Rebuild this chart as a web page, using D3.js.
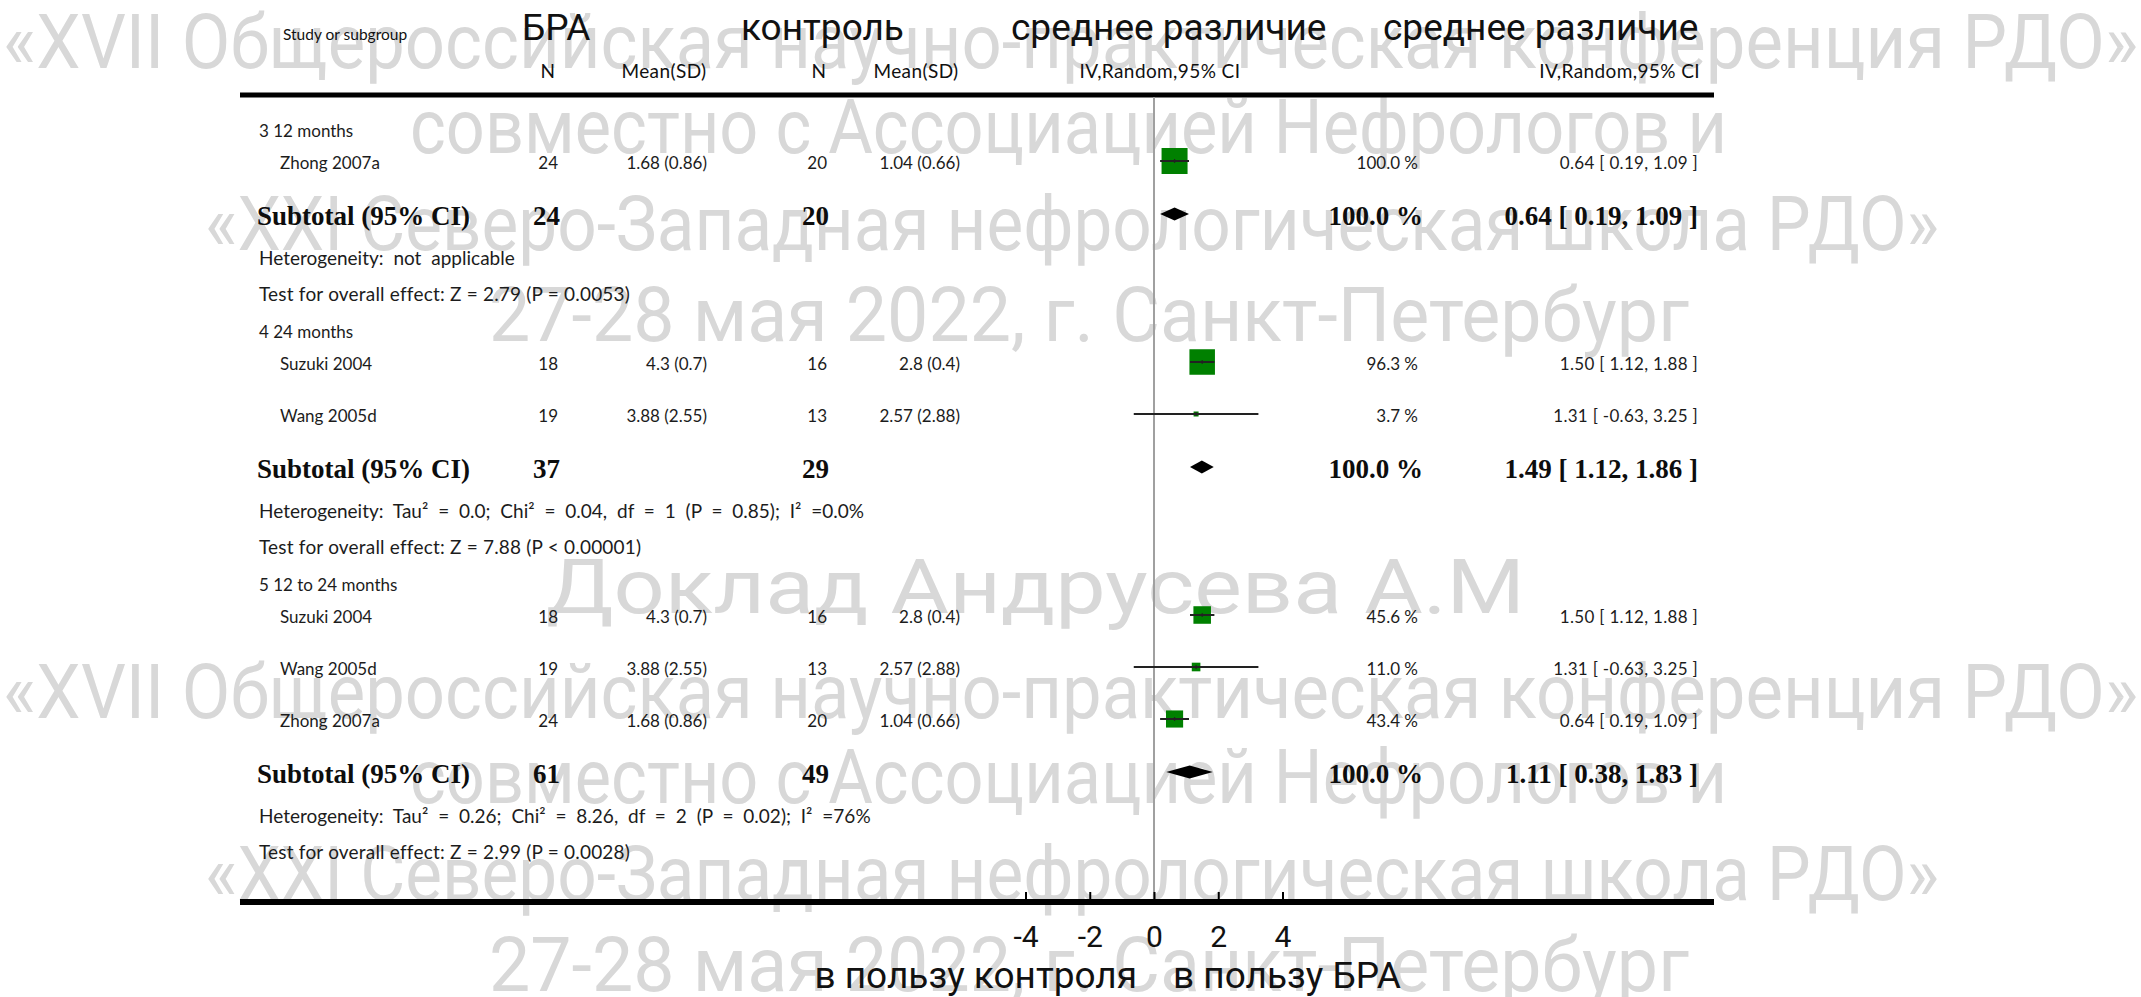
<!DOCTYPE html>
<html>
<head>
<meta charset="utf-8">
<script src="https://cdn.jsdelivr.net/npm/d3@7"></script>
<style>
  html, body { margin: 0; padding: 0; background: #fff; overflow: hidden; }
  svg { display: block; }
</style>
</head>
<body>
<svg id="chart" width="2141" height="997"></svg>
<script>
// Forest plot: mean difference (IV, random effects, 95% CI), subgroups by follow-up time

const groupLabels = ["3 12 months", "4 24 months", "5 12 to 24 months"];

// individual studies
const studyGroup  = [0, 1, 1, 2, 2, 2];
const studyNames  = ["Zhong 2007a", "Suzuki 2004", "Wang 2005d", "Suzuki 2004", "Wang 2005d", "Zhong 2007a"];
const braN        = [24, 18, 19, 18, 19, 24];
const braMeanSD   = ["1.68 (0.86)", "4.3 (0.7)", "3.88 (2.55)", "4.3 (0.7)", "3.88 (2.55)", "1.68 (0.86)"];
const ctrlN       = [20, 16, 13, 16, 13, 20];
const ctrlMeanSD  = ["1.04 (0.66)", "2.8 (0.4)", "2.57 (2.88)", "2.8 (0.4)", "2.57 (2.88)", "1.04 (0.66)"];
const weights     = [100.0, 96.3, 3.7, 45.6, 11.0, 43.4];
const meanDiff    = [0.64, 1.50, 1.31, 1.50, 1.31, 0.64];
const ciLow       = [0.19, 1.12, -0.63, 1.12, -0.63, 0.19];
const ciHigh      = [1.09, 1.88, 3.25, 1.88, 3.25, 1.09];

// subgroup totals
const subN1     = [24, 37, 61];
const subN2     = [20, 29, 49];
const subWeight = [100.0, 100.0, 100.0];
const subMD     = [0.64, 1.49, 1.11];
const subLow    = [0.19, 1.12, 0.38];
const subHigh   = [1.09, 1.86, 1.83];
const heterogeneity = [
  "Heterogeneity: not applicable",
  "Heterogeneity: Tau² = 0.0; Chi² = 0.04, df = 1 (P = 0.85); I² =0.0%",
  "Heterogeneity: Tau² = 0.26; Chi² = 8.26, df = 2 (P = 0.02); I² =76%"
];
const overallTest = [
  "Test for overall effect: Z = 2.79 (P = 0.0053)",
  "Test for overall effect: Z = 7.88 (P < 0.00001)",
  "Test for overall effect: Z = 2.99 (P = 0.0028)"
];

const xTicks = [-4, -2, 0, 2, 4];
const xLabels = ["в пользу контроля", "в пользу БРА"];

const bannerLines = [
  "«XVII Общероссийская научно-практическая конференция РДО»",
  "совместно с Ассоциацией Нефрологов и",
  "«XXI Северо-Западная нефрологическая школа РДО»",
  "27-28 мая 2022, г. Санкт-Петербург"
];
const speakerLine = "Доклад Андрусева А.М";

// ---------------------------------------------------------------------------
const svg = d3.select("#chart");
svg.append("rect").attr("width", 2141).attr("height", 997).attr("fill", "#fff");

// background banner text
const bannerFont = "Roboto, 'Liberation Sans', sans-serif";
const banner = svg.append("g").attr("fill", "#d8d8d8")
  .attr("font-family", bannerFont).attr("font-size", 76);
const bannerSpec = [
  {x: 3,   w: 2135, y: 68},
  {x: 410, w: 1317, y: 153},
  {x: 205, w: 1734, y: 250},
  {x: 489, w: 1200, y: 341}
];
[0, 650].forEach(dy => {
  bannerLines.forEach((t, i) => {
    banner.append("text")
      .attr("x", bannerSpec[i].x).attr("y", bannerSpec[i].y + dy)
      .attr("textLength", bannerSpec[i].w).attr("lengthAdjust", "spacingAndGlyphs")
      .text(t);
  });
});
banner.append("text").attr("x", 546).attr("y", 613)
  .attr("textLength", 979).attr("lengthAdjust", "spacingAndGlyphs")
  .text(speakerLine);

// ---------------------------------------------------------------------------
const x = d3.scaleLinear().domain([-4, 4]).range([1025.5, 1282.5]);

const tableLeft = 240, tableRight = 1714;
const topRuleY = 95, axisY = 902;

const small = "Lato, 'Open Sans', sans-serif";
const serif = "'Liberation Serif', 'DejaVu Serif', serif";
const big = "Roboto, 'Liberation Sans', sans-serif";

const col = {
  label: 259, study: 280,
  n1: 558, mean1: 707, n2: 827, mean2: 960,
  weight: 1418, ci: 1698
};

// header
const head = svg.append("g").attr("fill", "#111");
head.append("text").attr("x", 283).attr("y", 40)
  .attr("font-family", small).attr("font-size", 15.5).text("Study or subgroup");
[["БРА", 522], ["контроль", 741], ["среднее различие", 1011], ["среднее различие", 1383]]
  .forEach(([t, px]) => {
    head.append("text").attr("x", px).attr("y", 40)
      .attr("font-family", big).attr("font-size", 37).text(t);
  });
[["N", 548, "middle"], ["Mean(SD)", 664, "middle"], ["N", 819, "middle"], ["Mean(SD)", 916, "middle"],
 ["IV,Random,95% CI", 1160, "middle"], ["IV,Random,95% CI", 1700, "end"]]
  .forEach(([t, px, anchor]) => {
    head.append("text").attr("x", px).attr("y", 78).attr("text-anchor", anchor)
      .attr("font-family", small).attr("font-size", 19).attr("letter-spacing", 0.4).text(t);
  });

// rules
svg.append("line").attr("x1", tableLeft).attr("x2", tableRight)
  .attr("y1", topRuleY).attr("y2", topRuleY)
  .attr("stroke", "#000").attr("stroke-width", 5);

// zero line
svg.append("line").attr("x1", x(0)).attr("x2", x(0))
  .attr("y1", topRuleY + 2).attr("y2", axisY)
  .attr("stroke", "#a0a0a0").attr("stroke-width", 2);

// row layout
const rows = [];
let y = 131;
groupLabels.forEach((g, gi) => {
  if (gi > 0) y += 38;
  rows.push({type: "label", gi, y});
  const members = studyGroup.map((s, i) => s === gi ? i : -1).filter(i => i >= 0);
  members.forEach((i, k) => {
    y += k === 0 ? 32 : 52;
    rows.push({type: "study", i, y});
  });
  y += 53; rows.push({type: "subtotal", gi, y});
  y += 42; rows.push({type: "het", gi, y});
  y += 36; rows.push({type: "test", gi, y});
});

const fmtCI = (m, l, h) => `${m.toFixed(2)} [ ${l.toFixed(2)}, ${h.toFixed(2)} ]`;
const fmtW = w => `${w.toFixed(1)} %`;

const body = svg.append("g");
const txt = (px, py, t, opts = {}) => body.append("text")
  .attr("x", px).attr("y", py)
  .attr("dy", opts.dy ?? "0.35em")
  .attr("text-anchor", opts.anchor || "start")
  .attr("font-family", opts.family || small)
  .attr("font-size", opts.size || 17)
  .attr("font-weight", opts.weight || "normal")
  .attr("letter-spacing", opts.spacing || 0)
  .attr("word-spacing", opts.wordSpacing || 0)
  .attr("fill", opts.fill || "#1c1c1c")
  .text(t);

const maxSide = 26;
rows.forEach(r => {
  if (r.type === "label") {
    txt(col.label, r.y, groupLabels[r.gi]);
  } else if (r.type === "study") {
    const i = r.i;
    txt(col.study, r.y, studyNames[i]);
    txt(col.n1, r.y, braN[i], {anchor: "end"});
    txt(col.mean1, r.y, braMeanSD[i], {anchor: "end"});
    txt(col.n2, r.y, ctrlN[i], {anchor: "end"});
    txt(col.mean2, r.y, ctrlMeanSD[i], {anchor: "end"});
    txt(col.weight, r.y, fmtW(weights[i]), {anchor: "end"});
    txt(col.ci, r.y, fmtCI(meanDiff[i], ciLow[i], ciHigh[i]), {anchor: "end", spacing: 0.3});
    const my = r.y - 2;
    const side = maxSide * Math.sqrt(weights[i] / 100);
    body.append("rect")
      .attr("x", x(meanDiff[i]) - side / 2).attr("y", my - side / 2)
      .attr("width", side).attr("height", side)
      .attr("fill", "#008000");
    body.append("line")
      .attr("x1", x(ciLow[i])).attr("x2", x(ciHigh[i]))
      .attr("y1", my).attr("y2", my)
      .attr("stroke", "#222").attr("stroke-width", 2);
    body.append("line")
      .attr("x1", x(meanDiff[i])).attr("x2", x(meanDiff[i]))
      .attr("y1", my - 2).attr("y2", my + 2)
      .attr("stroke", "#222").attr("stroke-width", 1.2);
  } else if (r.type === "subtotal") {
    const g = r.gi;
    const b = {family: serif, size: 27, weight: "bold", fill: "#0d0d0d"};
    txt(257, r.y, "Subtotal (95% CI)", b);
    txt(col.n1 + 2, r.y, subN1[g], {...b, anchor: "end"});
    txt(col.n2 + 2, r.y, subN2[g], {...b, anchor: "end"});
    txt(col.weight + 5, r.y, fmtW(subWeight[g]), {...b, anchor: "end"});
    txt(col.ci, r.y, fmtCI(subMD[g], subLow[g], subHigh[g]), {...b, anchor: "end"});
    const my = r.y - 2, h = 6.5;
    body.append("path")
      .attr("d", `M${x(subLow[g])},${my}L${x(subMD[g])},${my - h}L${x(subHigh[g])},${my}L${x(subMD[g])},${my + h}Z`)
      .attr("fill", "#000");
  } else if (r.type === "het") {
    txt(col.label, r.y, heterogeneity[r.gi], {size: 19, wordSpacing: 5});
  } else {
    txt(col.label, r.y, overallTest[r.gi], {size: 19, spacing: 0.2});
  }
});

// axis
svg.append("line").attr("x1", tableLeft).attr("x2", tableRight)
  .attr("y1", axisY).attr("y2", axisY)
  .attr("stroke", "#000").attr("stroke-width", 6);

const axis = svg.append("g").attr("transform", `translate(0,${axisY - 3})`)
  .call(d3.axisTop(x).tickValues(xTicks).tickSize(7).tickSizeOuter(0).tickFormat(d => String(d)));
axis.select(".domain").remove();
axis.selectAll(".tick line").attr("stroke", "#000").attr("stroke-width", 2);
axis.selectAll(".tick text")
  .attr("y", 48).attr("dy", 0)
  .attr("font-family", big).attr("font-size", 30).attr("fill", "#111");

svg.append("text").attr("x", x(0) - 17).attr("y", 988).attr("text-anchor", "end")
  .attr("font-family", big).attr("font-size", 37).attr("fill", "#111").text(xLabels[0]);
svg.append("text").attr("x", x(0) + 19).attr("y", 988).attr("text-anchor", "start")
  .attr("font-family", big).attr("font-size", 37).attr("fill", "#111").text(xLabels[1]);
</script>
</body>
</html>
